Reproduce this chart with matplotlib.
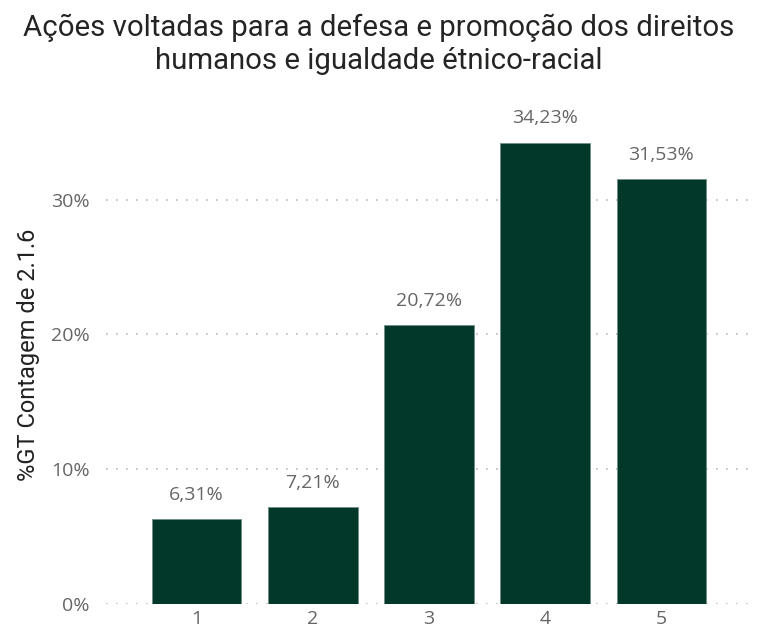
import matplotlib.pyplot as plt
from matplotlib.ticker import FuncFormatter

categorias = ['1', '2', '3', '4', '5']
valores = [6.31, 7.21, 20.72, 34.23, 31.53]
rotulos = ['6,31%', '7,21%', '20,72%', '34,23%', '31,53%']

titulo = 'Ações voltadas para a defesa e promoção dos direitos\nhumanos e igualdade étnico-racial'
cor_barra = '#02382a'
cinza = '#666666'

fig = plt.figure(figsize=(7.58, 6.34), dpi=100)
ax = fig.add_axes([0.14, 0.047, 0.849, 0.787])

x = range(1, len(valores) + 1)
ax.bar(x, valores, width=0.77, color=cor_barra, edgecolor='#6f8f86', linewidth=0.6, zorder=3)

for xi, v, r in zip(x, valores, rotulos):
    ax.annotate(r, (xi, v), xytext=(0, 11), textcoords='offset points',
                ha='center', va='bottom', fontsize=14, color=cinza,
                family='Open Sans')

ax.set_xlim(0.22, 5.76)
ax.set_ylim(0, 37)
ax.set_yticks([0, 10, 20, 30])
ax.yaxis.set_major_formatter(FuncFormatter(lambda v, p: f'{v:.0f}%'))
ax.set_xticks(list(x))
ax.set_xticklabels(categorias)

ax.grid(axis='y', linestyle=(0, (1, 5)), color='#b8b8b8', linewidth=1.2, zorder=0)
for s in ax.spines.values():
    s.set_visible(False)
ax.tick_params(axis='y', length=0, labelsize=14, colors=cinza, pad=12)
ax.tick_params(axis='x', length=0, labelsize=14, colors=cinza, pad=4)
for lbl in ax.get_xticklabels() + ax.get_yticklabels():
    lbl.set_family('Open Sans')

ax.set_ylabel('%GT Contagem de 2.1.6', fontsize=17, color='#222222',
              family='Roboto', labelpad=8)

fig.text(0.5, 0.978, titulo, ha='center', va='top', fontsize=21.2,
         color='#252423', family='Roboto', linespacing=1.22)

fig.savefig('out.png', dpi=100)
